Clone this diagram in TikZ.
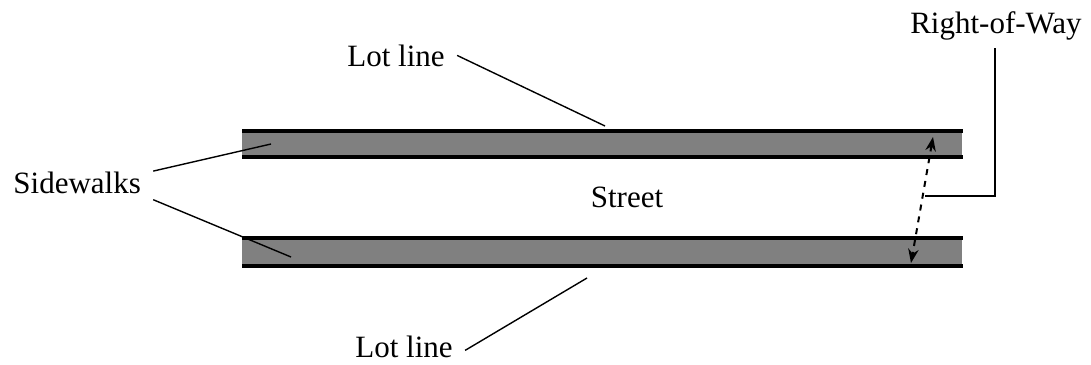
\documentclass[tikz,border=0pt]{standalone}
\usepackage{fontspec}
\setmainfont{Liberation Serif}
\usepackage{tikz}
\usetikzlibrary{positioning,calc,arrows.meta}

\tikzset{
    label/.style = {inner xsep=6pt, inner ysep=0pt, font=\fontsize{15.5}{18}\selectfont},
    leader/.style = {line width=0.7pt},
    edge/.style = {line width=1.7pt}
}

\begin{document}
\begin{tikzpicture}[x=0.5pt, y=-0.5pt]
    \useasboundingbox (0,0) rectangle (1091,364);

    \coordinate (a) at (242,131);
    \coordinate (b) at (963,131);
    \coordinate (c) at (963,157);
    \coordinate (d) at (242,157);
    \fill[black!50] (a) rectangle (962,157);
    \draw[edge] (a) -- (b);
    \draw[edge] (d) -- (c);

    \coordinate (a') at (242,238);
    \coordinate (b') at (963,238);
    \coordinate (c') at (963,266);
    \coordinate (d') at (242,266);
    \fill[black!50] (a') rectangle (962,266);
    \draw[edge] (a') -- (b');
    \draw[edge] (d') -- (c');

    \node[label, anchor=base west] (lottop) at (335,66) {Lot line};
    \node[label, anchor=base west] (lotbot) at (343,357) {Lot line};
    \node[label, anchor=base west] (side) at (1,193) {Sidewalks};
    \node[label, anchor=base] (street) at (627,207) {Street};
    \node[label, anchor=base] (row) at (996,33) {Right-of-Way};

    \coordinate (lt) at (605,126);
    \coordinate (lb) at (587,278);
    \coordinate (st) at (271,144);
    \coordinate (sb) at (291,257);
    \coordinate (rt) at (933,137);
    \coordinate (rb) at (911,263);
    \coordinate (rm) at (925,196);

    \draw[leader] (lottop.east) -- (lt);
    \draw[leader] ([yshift=-2pt]lotbot.east) -- (lb);
    \draw[leader] (side.north east) -- (st);
    \draw[leader] ([yshift=-3pt]side.south east) -- (sb);
    \draw[leader] ([xshift=-0.5pt, yshift=-4pt]row.south) |- (rm);
    \draw[line width=1pt, dashed, {Stealth[length=7pt]}-{Stealth[length=7pt]}] (rt) -- (rb);
\end{tikzpicture}
\end{document}
